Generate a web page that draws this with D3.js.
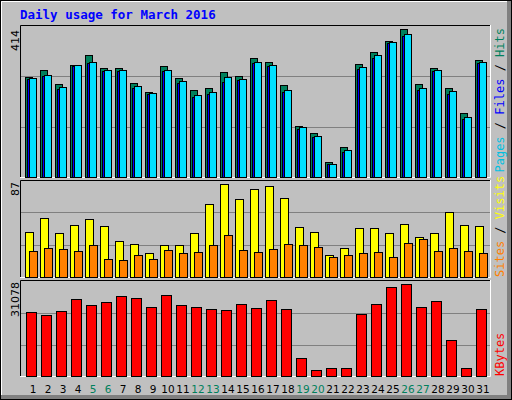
<!DOCTYPE html>
<html>
<head>
<meta charset="utf-8">
<script src="https://cdn.jsdelivr.net/npm/d3@7.9.0/dist/d3.min.js"></script>
<style>
  body { margin: 0; background: #fff; }
  svg { display: block; }
</style>
</head>
<body>
<svg id="chart" width="512" height="400"></svg>
<script>
const days = d3.range(1, 32);
const weekendDays = [5, 6, 12, 13, 19, 20, 26, 27];

const hits = [281, 299, 260, 313, 341, 305, 305, 262, 237, 310, 277, 243, 248, 293, 282, 333,
  321, 257, 144, 122, 43, 83, 316, 350, 380, 414, 260, 305, 248, 178, 327];
const files = [274, 283, 246, 311, 318, 297, 297, 250, 231, 296, 262, 225, 231, 265, 270, 318,
  311, 238, 135, 112, 35, 70, 303, 332, 375, 394, 244, 296, 232, 163, 319];
const pages = [278, 285, 252, 313, 321, 299, 299, 254, 234, 299, 269, 229, 237, 279, 274, 322,
  313, 243, 141, 116, 37, 75, 308, 342, 377, 400, 249, 299, 240, 167, 321];
const visits = [42, 55, 41, 49, 54, 48, 34, 31, 22, 30, 30, 41, 68, 87, 73, 82,
  85, 74, 47, 42, 21, 27, 46, 46, 41, 50, 37, 41, 61, 49, 48];
const sites = [24, 27, 26, 24, 30, 17, 16, 21, 17, 25, 22, 23, 30, 39, 25, 23,
  26, 31, 30, 28, 19, 21, 22, 23, 19, 32, 36, 24, 27, 24, 22];
const kbytes = [21550, 20530, 21890, 25970, 23930, 24950, 26990, 26310, 23250, 27330, 23930,
  23250, 22570, 22230, 24270, 22910, 25630, 22570, 6240, 2150, 2610, 2840, 20870, 24270,
  30050, 31078, 23250, 25290, 12020, 2840, 22570];

const svg = d3.select("#chart");
const mono = "DejaVu Sans Mono, monospace";

// background and bevelled frame
svg.append("rect").attr("width", 512).attr("height", 400).attr("fill", "#c0c0c0");
svg.append("rect").attr("x", 507).attr("y", 0).attr("width", 5).attr("height", 400).attr("fill", "#808080");
svg.append("rect").attr("x", 0).attr("y", 395).attr("width", 512).attr("height", 5).attr("fill", "#808080");
svg.append("path").attr("d", "M1.5,395V1.5H507").attr("fill", "none").attr("stroke", "#fff");
svg.append("rect").attr("x", 0.5).attr("y", 0.5).attr("width", 511).attr("height", 399)
  .attr("fill", "none").attr("stroke", "#000");

svg.append("text").attr("x", 20).attr("y", 19).attr("fill", "#0000ff")
  .attr("font-family", mono).attr("font-weight", "bold").attr("font-size", 12.5)
  .text("Daily usage for March 2016");

const x = d3.scaleLinear().domain([1, 32]).range([25, 490]);

function panel(top, bottom) {
  const g = svg.append("g");
  g.append("path").attr("d", `M20.5,${bottom}V${top}.5H490.5`).attr("fill", "none").attr("stroke", "#000");
  g.append("path").attr("d", `M490.5,${top}V${bottom}.5H20`).attr("fill", "none").attr("stroke", "#fff");
  return g;
}

function grid(g, y, ticks) {
  g.selectAll(null).data(ticks).join("line")
    .attr("x1", 21).attr("x2", 490)
    .attr("y1", (d) => Math.round(y(d)) + 0.5).attr("y2", (d) => Math.round(y(d)) + 0.5)
    .attr("stroke", "#808080");
}

function bars(g, data, y, dx, w, fill) {
  g.selectAll(null).data(data).join("rect")
    .attr("x", (d, i) => x(days[i]) + dx + 0.5)
    .attr("y", (d) => Math.round(y(d)) + 0.5)
    .attr("width", w)
    .attr("height", (d) => Math.max(0, y.range()[0] - Math.round(y(d))))
    .attr("fill", fill).attr("stroke", "#000");
}

function leftLabel(yTop, text) {
  svg.append("text").attr("transform", `translate(19,${yTop}) rotate(-90)`)
    .attr("text-anchor", "end").attr("font-family", "DejaVu Sans, sans-serif")
    .attr("font-size", 11).text(text);
}

function rightLabel(yPos, anchor, parts) {
  const t = svg.append("text").attr("transform", `translate(504,${yPos}) rotate(-90)`)
    .attr("text-anchor", anchor).attr("font-family", mono).attr("font-size", 12);
  parts.forEach(([s, c]) => t.append("tspan").attr("fill", c).text(s));
}

// panel 1: hits / files / pages
const y1 = d3.scaleLinear().domain([0, 414]).range([177, 29]);
const p1 = panel(25, 177);
grid(p1, y1, [140, 283]);
bars(p1, hits, y1, 0, 7, "#00805c");
bars(p1, files, y1, 2, 7, "#0000ff");
bars(p1, pages, y1, 4, 7, "#00e0ff");
leftLabel(30, "414");
rightLabel(28, "end", [["Pages", "#00c0e0"], [" / ", "#000"], ["Files", "#0000ff"], [" / ", "#000"], ["Hits", "#00805c"]]);

// panel 2: visits / sites
const y2 = d3.scaleLinear().domain([0, 87]).range([277, 184]);
const p2 = panel(180, 277);
grid(p2, y2, [29.5, 61]);
bars(p2, visits, y2, 0, 8, "#ffff00");
bars(p2, sites, y2, 4, 8, "#ff8000");
leftLabel(182, "87");
rightLabel(277, "start", [["Sites", "#ff8000"], [" / ", "#000"], ["Visits", "#ffff00"]]);

// panel 3: kbytes
const y3 = d3.scaleLinear().domain([0, 31078]).range([376, 284]);
const p3 = panel(280, 376);
grid(p3, y3, [10400, 21200]);
bars(p3, kbytes, y3, 1, 10, "#ff0000");
leftLabel(282, "31078");
rightLabel(376, "start", [["KBytes", "#ff0000"]]);

// day labels
svg.selectAll(null).data(days).join("text")
  .attr("x", (d) => x(d) + 8).attr("y", 393)
  .attr("text-anchor", "middle").attr("font-family", "DejaVu Sans, sans-serif").attr("font-size", 10.5)
  .attr("fill", (d) => weekendDays.includes(d) ? "#00805c" : "#000")
  .text((d) => d);
</script>
</body>
</html>
